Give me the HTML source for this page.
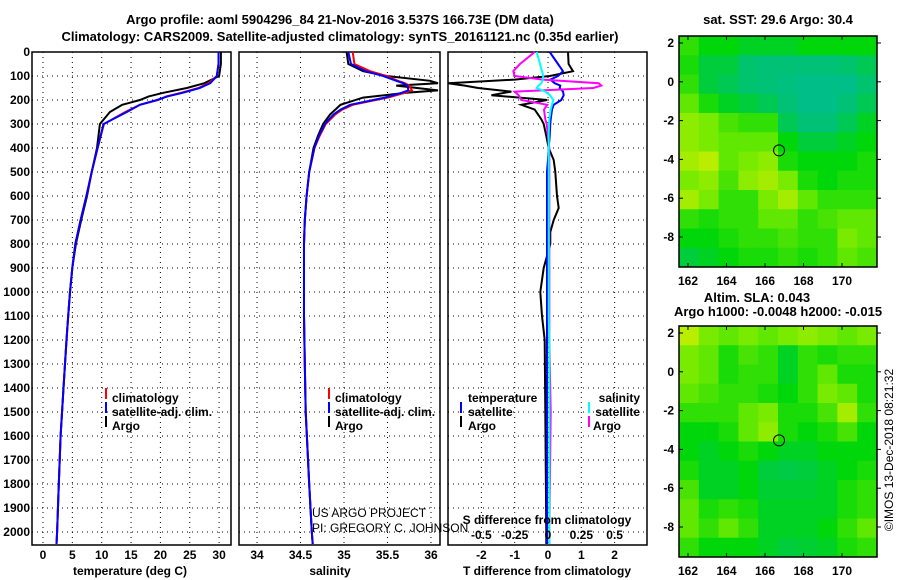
<!DOCTYPE html>
<html><head><meta charset="utf-8">
<style>
html,body{margin:0;padding:0;background:#fff;}
svg{display:block;font-family:"Liberation Sans",sans-serif;}
.t{font-weight:bold;font-size:13px;fill:#000;}
.k{font-weight:bold;font-size:12px;fill:#000;}
</style></head>
<body>
<svg id="c" width="900" height="580" viewBox="0 0 900 580">
<text class="t" x="340" y="24" text-anchor="middle">Argo profile: aoml 5904296_84 21-Nov-2016 3.537S 166.73E (DM data)</text>
<text class="t" x="340" y="41" text-anchor="middle">Climatology: CARS2009. Satellite-adjusted climatology: synTS_20161121.nc (0.35d earlier)</text>
<text class="t" x="778" y="24" text-anchor="middle">sat. SST: 29.6 Argo: 30.4</text>
<text class="t" x="757" y="302" text-anchor="middle">Altim. SLA: 0.043</text>
<text class="t" x="778" y="316" text-anchor="middle">Argo h1000: -0.0048 h2000: -0.015</text>
<text x="893" y="450" font-size="12" text-anchor="middle" transform="rotate(-90 893 450)">©IMOS 13-Dec-2018 08:21:32</text>
<text x="312" y="517" font-size="12">US ARGO PROJECT</text>
<text x="312" y="532" font-size="12">PI: GREGORY C. JOHNSON</text>
<g id="plots"></g>
</svg>
<script>
// ---- data ----
const depthT = [0,50,100,130,150,170,185,200,220,250,300,400,500,600,700,800,900,1000,1100,1200,1400,1600,1800,2000,2050];
const tempArgo = [30.3,30.3,30.0,27.5,24.5,20.5,18.0,16.5,13.5,11.4,9.7,9.2,8.3,7.5,6.5,5.6,5.0,4.6,4.3,4.0,3.5,3.0,2.7,2.4,2.3];
const tempClim = [29.9,29.9,29.6,28.2,26.5,23.5,21.0,19.6,16.5,14.0,10.4,9.3,8.3,7.4,6.4,5.5,5.0,4.6,4.3,4.0,3.5,3.0,2.7,2.4,2.3];
const tempSat  = [29.9,29.9,29.6,28.5,26.7,23.8,21.2,19.4,16.5,14.3,10.3,9.3,8.3,7.4,6.4,5.5,5.0,4.6,4.3,4.0,3.5,3.0,2.7,2.4,2.3];
const depthS = [0,50,80,100,120,130,140,160,170,190,220,240,260,300,350,400,500,600,700,800,1100,1300,1500,1800,2000,2050];
const salArgo = [35.03,35.05,35.22,35.49,35.99,36.08,35.6,36.08,35.72,35.22,34.96,34.9,34.84,34.76,34.7,34.65,34.6,34.57,34.55,34.54,34.54,34.55,34.56,34.6,34.63,34.64];
const salClim = [35.1,35.12,35.3,35.49,35.62,35.7,35.75,35.78,35.7,35.5,35.1,34.98,34.9,34.79,34.72,34.66,34.6,34.57,34.55,34.54,34.54,34.55,34.56,34.6,34.63,34.64];
const salSat  = [35.05,35.08,35.25,35.45,35.6,35.68,35.73,35.74,35.66,35.47,35.07,34.96,34.88,34.78,34.71,34.66,34.6,34.57,34.55,34.54,34.54,34.55,34.56,34.6,34.63,34.64];
const depthD = [0,50,80,100,115,130,140,150,165,180,200,220,240,280,300,350,400,450,500,600,650,700,750,800,900,1000,1100,1200,1500,2000,2050];
const tdiffArgo = [0.6,0.62,0.75,0.05,-1.0,-3.0,-2.5,-2.1,-1.1,-1.7,-0.02,-0.8,-0.4,-0.2,-0.13,-0.05,0.02,0.17,0.22,0.27,0.32,0.17,0.07,0.07,-0.13,-0.23,-0.18,-0.1,-0.08,-0.05,-0.05];
const tdiffSat = [0.05,0.3,0.45,0.3,0.07,0.2,0.37,0.35,0.45,0.47,0.4,0.17,0.12,0.08,0.07,0.05,0.02,0.0,-0.03,-0.03,-0.03,-0.03,-0.03,-0.03,-0.03,-0.03,-0.03,-0.03,-0.03,-0.03,-0.03];
const sdiffArgo = [-0.1,-0.21,-0.26,-0.25,-0.04,0.38,0.4,0.34,-0.25,-0.22,-0.2,-0.005,-0.03,-0.02,-0.01,0.0,0.01,0.01,0.01,0.01,0.01,0.01,0.01,0.01,0.01,0.01,0.01,0.01,0.02,0.01,0.01];
const sdiffSat = [-0.085,-0.06,-0.045,-0.035,-0.04,-0.05,-0.07,-0.085,-0.02,0.015,0.04,0.03,0.02,0.01,0.0075,0.005,0.005,0.005,0.005,0.005,0.005,0.005,0.005,0.005,0.005,0.005,0.005,0.01,0.01,0.01,0.01];
const depthTicks = [0,100,200,300,400,500,600,700,800,900,1000,1100,1200,1300,1400,1500,1600,1700,1800,1900,2000];
const tempTicks = [0,5,10,15,20,25,30];
const salTicks = [34,34.5,35,35.5,36];
const tdiffTicks = [-2,-1,0,1,2];
const sdiffTicks = [-0.5,-0.25,0,0.25,0.5];
const lonTicks = [162,164,166,168,170];
const latTicks = [2,0,-2,-4,-6,-8];
const sstGrid = [
[0.6,0.5,0.5,0.45,0.45,0.45,0.5,0.5,0.5,0.5],
[0.55,0.4,0.4,0.3,0.25,0.25,0.25,0.25,0.3,0.35],
[0.6,0.4,0.35,0.3,0.25,0.2,0.15,0.15,0.15,0.3],
[0.7,0.55,0.45,0.4,0.35,0.25,0.15,0.15,0.25,0.35],
[0.8,0.75,0.65,0.6,0.6,0.35,0.25,0.25,0.35,0.45],
[0.8,0.75,0.7,0.7,0.7,0.5,0.4,0.4,0.45,0.5],
[0.85,0.9,0.7,0.75,0.8,0.55,0.5,0.5,0.5,0.55],
[0.75,0.8,0.65,0.8,0.85,0.75,0.55,0.5,0.55,0.55],
[0.85,0.75,0.6,0.6,0.75,0.85,0.7,0.6,0.6,0.6],
[0.6,0.55,0.6,0.6,0.7,0.7,0.6,0.65,0.7,0.7],
[0.5,0.5,0.55,0.6,0.6,0.65,0.6,0.6,0.75,0.7],
[0.4,0.45,0.5,0.55,0.55,0.6,0.55,0.6,0.7,0.65]];
const slaGrid = [
[0.9,0.75,0.7,0.75,0.7,0.75,0.8,0.75,0.7,0.75],
[0.75,0.7,0.55,0.65,0.6,0.45,0.6,0.55,0.6,0.6],
[0.75,0.7,0.55,0.6,0.6,0.45,0.6,0.7,0.55,0.55],
[0.7,0.65,0.6,0.6,0.55,0.5,0.6,0.75,0.7,0.55],
[0.6,0.6,0.6,0.7,0.75,0.55,0.55,0.65,0.85,0.6],
[0.5,0.5,0.55,0.7,0.8,0.55,0.5,0.55,0.65,0.5],
[0.5,0.45,0.5,0.55,0.5,0.45,0.45,0.5,0.5,0.5],
[0.55,0.45,0.45,0.5,0.4,0.38,0.4,0.45,0.5,0.55],
[0.65,0.45,0.45,0.5,0.42,0.42,0.42,0.45,0.55,0.6],
[0.7,0.55,0.6,0.55,0.45,0.45,0.45,0.45,0.55,0.6],
[0.7,0.6,0.7,0.6,0.45,0.45,0.45,0.5,0.6,0.7],
[0.6,0.5,0.5,0.5,0.45,0.4,0.42,0.45,0.55,0.6]];
const floatLon = 166.73, floatLat = -3.537;

// ---- helpers ----
const NS = "http://www.w3.org/2000/svg";
const root = document.getElementById('plots');
function mk(tag, attrs, parent){const e=document.createElementNS(NS,tag);for(const k in attrs)e.setAttribute(k,attrs[k]);(parent||root).appendChild(e);return e;}
const TOP=52, BOT=545;
const yD = d => TOP + d*0.24;
const xT = t => 43 + t*5.87;
const xS = s => 257 + (s-34)*87;
const xTd = v => 548 + v*33.3;
const xSd = v => 548 + v*133.3;

function panel(name,x0,x1,ticks,xf,labels){
  const g=mk('g',{});
  
  
  depthTicks.forEach(d=>{const l=mk('line',{x1:x0,x2:x1,y1:yD(d),y2:yD(d),stroke:'#000','stroke-dasharray':'1,4','stroke-width':1},g);
    
    });
  ticks.forEach(v=>{const l=mk('line',{x1:xf(v),x2:xf(v),y1:TOP,y2:BOT,stroke:'#000','stroke-dasharray':'1,4','stroke-width':1},g);
    
    
    if(labels){const t=mk('text',{x:xf(v),y:559,'text-anchor':'middle',class:'k'},g);t.textContent=String(v);
      
      }});
  const r=mk('rect',{x:x0,y:TOP,width:x1-x0,height:BOT-TOP,fill:'none',stroke:'#000','stroke-width':1.5},g);
  
  
  return g;
}
function line(g,name,ds,vs,xf,color,x0,x1){
  const pts=ds.map((d,i)=>Math.max(x0,Math.min(x1,xf(vs[i]))).toFixed(1)+','+yD(d).toFixed(1)).join(' ');
  const p=mk('polyline',{points:pts,fill:'none',stroke:color,'stroke-width':2},g);
  
  
}
function txt(x,y,s,name,anchor){const t=mk('text',{x:x,y:y,class:'k','text-anchor':anchor||'start'});t.textContent=s;
  
  return t;}
function mark(x,y,color){const r=mk('rect',{x:x,y:y-10,width:2,height:11,fill:color});
  
  }

depthTicks.forEach(d=>{txt(30,yD(d)+4,String(d),'y-tick-label','end');});

const g1=panel('temperature-panel',32,231,tempTicks,xT,true);
line(g1,'temp-argo-line',depthT,tempArgo,xT,'#000',32,231);
line(g1,'temp-clim-line',depthT,tempClim,xT,'#f00',32,231);
line(g1,'temp-sat-line',depthT,tempSat,xT,'#00f',32,231);
txt(130,575,'temperature (deg C)','x-axis-title-temperature','middle');
mark(105,398,'#f00');txt(112,402,'climatology','legend-climatology');
mark(105,412,'#00f');txt(112,416,'satellite-adj. clim.','legend-satellite');
mark(105,426,'#000');txt(112,430,'Argo','legend-argo');

const g2=panel('salinity-panel',239,440,salTicks,xS,true);
line(g2,'sal-argo-line',depthS,salArgo,xS,'#000',239,440);
line(g2,'sal-clim-line',depthS,salClim,xS,'#f00',239,440);
line(g2,'sal-sat-line',depthS,salSat,xS,'#00f',239,440);
txt(330,575,'salinity','x-axis-title-salinity','middle');
mark(328,398,'#f00');txt(335,402,'climatology','legend-climatology-2');
mark(328,412,'#00f');txt(335,416,'satellite-adj. clim.','legend-satellite-2');
mark(328,426,'#000');txt(335,430,'Argo','legend-argo-2');

const g3=panel('difference-panel',448,647,tdiffTicks,xTd,true);
line(g3,'tdiff-argo-line',depthD,tdiffArgo,xTd,'#000',448,647);
line(g3,'tdiff-sat-line',depthD,tdiffSat,xTd,'#00f',448,647);
line(g3,'sdiff-argo-line',depthD,sdiffArgo,xSd,'#f0f',448,647);
line(g3,'sdiff-sat-line',depthD,sdiffSat,xSd,'#0ff',448,647);
sdiffTicks.forEach(v=>{txt(xSd(v),539,String(v),'s-tick-label','middle');});
txt(547,524,'S difference from climatology','s-axis-title','middle');
txt(547,575,'T difference from climatology','t-axis-title','middle');
txt(468,402,'temperature','legend-temperature-header');
txt(640,402,'salinity','legend-salinity-header','end');
mark(460,412,'#00f');txt(468,416,'satellite','legend-t-satellite');
mark(460,426,'#000');txt(468,430,'Argo','legend-t-argo');
mark(588,412,'#0ff');txt(640,416,'satellite','legend-s-satellite','end');
mark(588,426,'#f0f');txt(593,430,'Argo','legend-s-argo');

const stops=[[0,[0,185,160]],[0.3,[0,195,110]],[0.5,[0,215,10]],[0.75,[120,235,0]],[1,[230,240,0]]];
function cmap(v){for(let i=1;i<stops.length;i++){if(v<=stops[i][0]){const a=stops[i-1],b=stops[i],f=(v-a[0])/(b[0]-a[0]);
  return 'rgb('+a[1].map((c,j)=>Math.round(c+(b[1][j]-c)*f)).join(',')+')';}}return 'rgb(230,240,0)';}
const mx0=679,mx1=877;
const xLon = l => 688 + (l-162)*19.25;
function map(name,grid,y0,y1,lat2y){
  const g=mk('g',{});
  
  
  const rows=grid.length, cols=grid[0].length, cw=(mx1-mx0)/cols, ch=(y1-y0)/rows;
  grid.forEach((row,r)=>row.forEach((v,c)=>{const e=mk('rect',{x:mx0+c*cw,y:y0+r*ch,width:cw+0.5,height:ch+0.5,fill:cmap(v)},g);
    
    }));
  const f=mk('rect',{x:mx0,y:y0,width:mx1-mx0,height:y1-y0,fill:'none',stroke:'#000','stroke-width':1.5},g);
  
  
  lonTicks.forEach(l=>{mk('line',{x1:xLon(l),x2:xLon(l),y1:y0,y2:y0+4,stroke:'#000'},g);mk('line',{x1:xLon(l),x2:xLon(l),y1:y1,y2:y1-4,stroke:'#000'},g);
    txt(xLon(l),y1+18,String(l),'lon-tick-label','middle');});
  latTicks.forEach(la=>{const y=lat2y(la);mk('line',{x1:mx0,x2:mx0+4,y1:y,y2:y,stroke:'#000'},g);mk('line',{x1:mx1,x2:mx1+4,y1:y,y2:y,stroke:'#000'},g);
    txt(674,y+4,String(la),'lat-tick-label','end');});
  const c=mk('circle',{cx:xLon(floatLon),cy:lat2y(floatLat),r:5.5,fill:'none',stroke:'#000','stroke-width':1},g);
  
  
}
map('sst-map',sstGrid,36,267,la=>43+(2-la)*19.4);
map('sla-map',slaGrid,326,557,la=>333+(2-la)*19.4);
</script>
</body></html>
